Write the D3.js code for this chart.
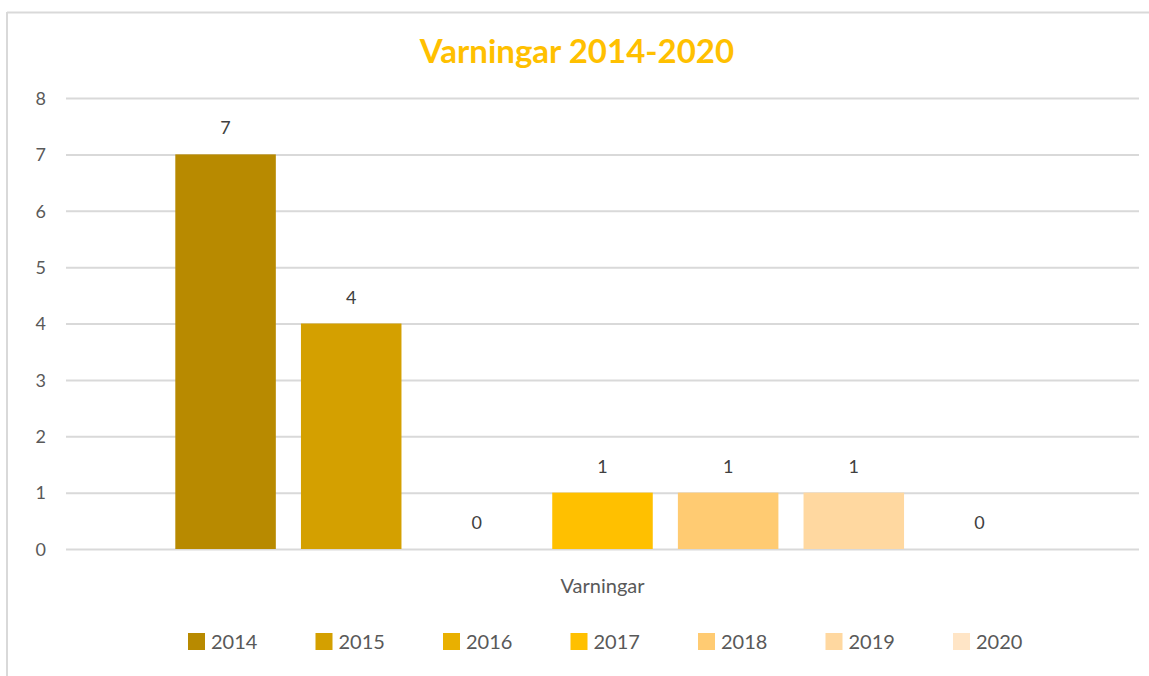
<!DOCTYPE html>
<html>
<head>
<meta charset="utf-8">
<script src="https://cdn.jsdelivr.net/npm/d3@7"></script>
<style>
  html, body { margin: 0; padding: 0; background: #ffffff; }
  svg { display: block; }
  text { font-family: Lato, "Open Sans", "Liberation Sans", sans-serif; }
</style>
</head>
<body>
<svg id="chart" width="1149" height="676"></svg>
<script>
// Warnings per year
const years = ["2014", "2015", "2016", "2017", "2018", "2019", "2020"];
const warnings = [7, 4, 0, 1, 1, 1, 0];
const colors = ["#B88A00", "#D4A000", "#E9B000", "#FFC000", "#FFCB72", "#FFD8A0", "#FFE5C6"];
const yTicks = [0, 1, 2, 3, 4, 5, 6, 7, 8];
const category = "Varningar";
const title = "Varningar 2014-2020";

const svg = d3.select("#chart");
const W = 1149, H = 676;
const plotLeft = 66, plotRight = 1139;
const plotTop = 98, plotBottom = 549;

// chart frame (top and left edges)
svg.append("line").attr("x1", 7).attr("x2", W).attr("y1", 12.5).attr("y2", 12.5)
  .attr("stroke", "#d9d9d9").attr("stroke-width", 2);
svg.append("line").attr("x1", 7).attr("x2", 7).attr("y1", 12).attr("y2", H)
  .attr("stroke", "#d9d9d9").attr("stroke-width", 2);

const y = d3.scaleLinear().domain([0, 8]).range([plotBottom, plotTop]);

// outer band for the single category, inner band for the years
const x0 = d3.scaleBand().domain([category]).range([plotLeft, plotRight]).paddingInner(0).paddingOuter(0.11);
const x1 = d3.scaleBand().domain(years).range([0, x0.bandwidth()]).paddingInner(0.2).paddingOuter(0.1);

// gridlines and tick labels
const yAxis = d3.axisLeft(y).tickValues(yTicks).tickSize(-(plotRight - plotLeft)).tickPadding(20).tickFormat(d3.format("d"));
const gy = svg.append("g").attr("transform", `translate(${plotLeft},0)`).call(yAxis);
gy.select(".domain").remove();
gy.selectAll(".tick line").attr("stroke", "#d9d9d9").attr("stroke-width", 2);
gy.selectAll(".tick text").attr("fill", "#595959").style("font-size", "18px").attr("dy", "0.35em");

// bars
const g = svg.append("g").attr("transform", `translate(${x0(category)},0)`);
g.selectAll("rect").data(years).join("rect")
  .attr("x", d => x1(d))
  .attr("y", (d, i) => y(warnings[i]))
  .attr("width", x1.bandwidth())
  .attr("height", (d, i) => y(0) - y(warnings[i]))
  .attr("fill", (d, i) => colors[i]);

// value labels
g.selectAll("text.val").data(years).join("text")
  .attr("class", "val")
  .attr("x", d => x1(d) + x1.bandwidth() / 2)
  .attr("y", (d, i) => y(warnings[i]) - 20)
  .attr("text-anchor", "middle")
  .attr("fill", "#404040")
  .style("font-size", "18px")
  .text((d, i) => warnings[i]);

// category label
svg.append("text")
  .attr("x", x0(category) + x0.bandwidth() / 2)
  .attr("y", 593)
  .attr("text-anchor", "middle")
  .attr("fill", "#595959")
  .style("font-size", "20px")
  .text(category);

// title
svg.append("text")
  .attr("x", 577)
  .attr("y", 63)
  .attr("text-anchor", "middle")
  .attr("fill", "#FFC000")
  .style("font-size", "33px")
  .style("font-weight", "bold")
  .text(title);

// legend
const legendX = d3.scalePoint().domain(years).range([188, 953]);
const lg = svg.append("g");
const items = lg.selectAll("g").data(years).join("g")
  .attr("transform", d => `translate(${legendX(d)},633)`);
items.append("rect").attr("width", 17).attr("height", 17)
  .attr("fill", (d, i) => colors[i]);
items.append("text").attr("x", 23).attr("y", 16)
  .attr("fill", "#595959").style("font-size", "20px")
  .text(d => d);
</script>
</body>
</html>
